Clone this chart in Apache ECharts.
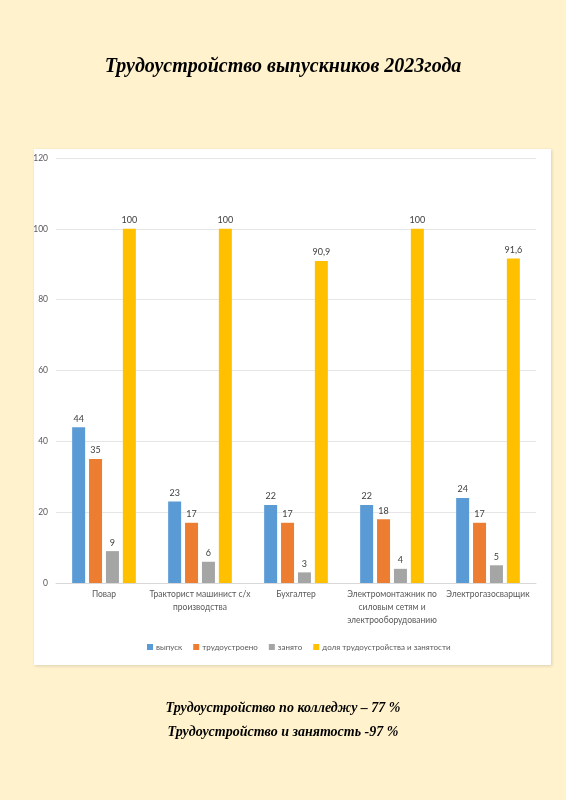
<!DOCTYPE html>
<html><head><meta charset="utf-8">
<script src="https://cdn.jsdelivr.net/npm/echarts@6/dist/echarts.min.js"></script>
<style>html,body{margin:0;padding:0;background:#FFF2CC;}#c{width:566px;height:800px;}</style>
</head><body><div id="c"></div>
<script>
var categories = ['Повар', 'Тракторист машинист с/х\nпроизводства', 'Бухгалтер', 'Электромонтажник по\nсиловым сетям и\nэлектрооборудованию', 'Электрогазосварщик'];
var seriesNames = ['выпуск', 'трудоустроено', 'занято', 'доля трудоустройства и занятости'];
var vypusk = [44, 23, 22, 22, 24];
var trudoustroeno = [35, 17, 17, 18, 17];
var zanyato = [9, 6, 3, 4, 5];
var dolya = [100, 100, 90.9, 100, 91.6];
var yTicks = [0, 20, 40, 60, 80, 100, 120];
var colors = ['#5B9BD5', '#ED7D31', '#A5A5A5', '#FFC000'];

var chart = echarts.init(document.getElementById('c'));
var lblFont = 'Lato, Open Sans, Liberation Sans, sans-serif';
function mk(name, data, color) {
  return {
    name: name, type: 'bar', data: data, barWidth: 13, barGap: '30%',
    itemStyle: { color: color },
    label: { show: true, position: 'top', distance: 4, color: '#404040', fontSize: 9, fontFamily: lblFont,
      formatter: function (p) { return String(p.value).replace('.', ','); } }
  };
}
chart.setOption({
  backgroundColor: '#FFF2CC',
  animation: false,
  graphic: [{
    type: 'rect', left: 34, top: 149, z: -10,
    shape: { width: 517, height: 516 },
    style: { fill: '#FFFFFF', shadowBlur: 3, shadowColor: 'rgba(0,0,0,0.15)', shadowOffsetX: 1, shadowOffsetY: 1 }
  }],
  title: [
    { text: 'Трудоустройство выпускников 2023года', left: 'center', top: 52,
      textStyle: { fontFamily: 'Liberation Serif, Times New Roman, serif', fontStyle: 'italic', fontWeight: 'bold', fontSize: 20, color: '#000' } },
    { text: 'Трудоустройство по колледжу – 77 %', left: 'center', top: 696,
      textStyle: { fontFamily: 'Liberation Serif, Times New Roman, serif', fontStyle: 'italic', fontWeight: 'bold', fontSize: 14, color: '#000' } },
    { text: 'Трудоустройство и занятость -97 %', left: 'center', top: 720,
      textStyle: { fontFamily: 'Liberation Serif, Times New Roman, serif', fontStyle: 'italic', fontWeight: 'bold', fontSize: 14, color: '#000' } }
  ],
  legend: {
    data: seriesNames, bottom: 144, left: 142,
    itemWidth: 6, itemHeight: 6, itemGap: 11, icon: 'rect',
    textStyle: { color: '#595959', fontSize: 8, fontFamily: lblFont, padding: [0, 0, 0, -2] }
  },
  grid: { left: 56, right: 30, top: 158, bottom: 217, containLabel: false },
  xAxis: {
    type: 'category', data: categories,
    axisLine: { lineStyle: { color: '#D9D9D9' } }, axisTick: { show: false },
    axisLabel: { color: '#595959', fontSize: 8.5, fontFamily: lblFont, lineHeight: 13, margin: 5, interval: 0 }
  },
  yAxis: {
    type: 'value', min: yTicks[0], max: yTicks[yTicks.length - 1], interval: 20,
    axisLine: { show: false }, axisTick: { show: false },
    splitLine: { lineStyle: { color: '#E6E6E6' } },
    axisLabel: { color: '#595959', fontSize: 8.5, fontFamily: lblFont, margin: 8 }
  },
  series: [
    mk(seriesNames[0], vypusk, colors[0]),
    mk(seriesNames[1], trudoustroeno, colors[1]),
    mk(seriesNames[2], zanyato, colors[2]),
    mk(seriesNames[3], dolya, colors[3])
  ]
});
</script></body></html>
